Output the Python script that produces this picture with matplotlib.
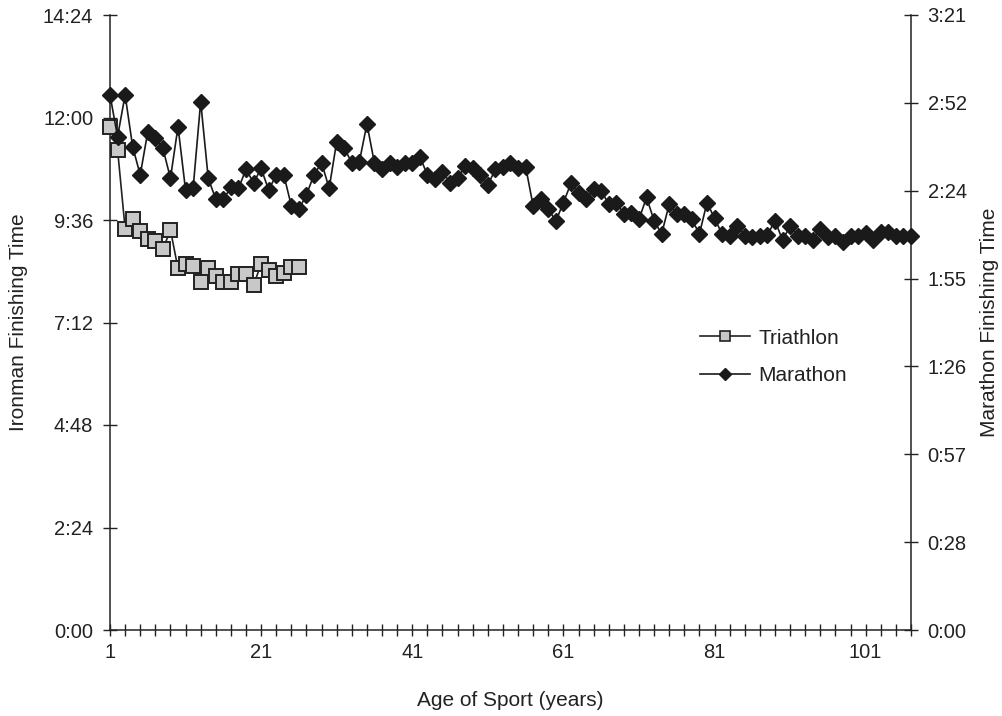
import matplotlib
matplotlib.use('Agg')
import matplotlib.pyplot as plt
from matplotlib.lines import Line2D
from matplotlib.ticker import FuncFormatter, FixedLocator
import numpy as np

plt.rcParams['font.family'] = ['Liberation Sans', 'DejaVu Sans']

# Ironman (triathlon) finishing time, minutes, by age of sport (years 1..26)
tri_years = list(range(1, 27))
tri_minutes = [707, 675, 564, 578, 560, 549, 546, 535, 562, 508,
               514, 511, 489, 508, 497, 489, 489, 500, 500, 485,
               514, 506, 497, 502, 510, 510]

# Marathon finishing time, minutes, by age of sport (years 1..107)
mar_years = list(range(1, 108))
mar_minutes = [175.4, 161.7, 175.4, 158.4, 149.2, 163.3, 161.2, 157.9, 148.1, 165.0,
               144.2, 144.8, 173.2, 148.1, 141.2, 141.2, 145.1, 144.8, 151.0, 146.6,
               151.3, 144.2, 149.2, 149.2, 139.0, 137.9, 142.7, 149.2, 153.2, 144.8,
               160.1, 157.9, 153.2, 153.5, 165.9, 153.0, 151.0, 153.0, 151.9, 153.0,
               153.2, 155.2, 149.2, 147.7, 150.2, 146.6, 148.1, 152.1, 151.3, 149.2,
               145.9, 151.0, 151.9, 153.2, 151.3, 151.9, 139.0, 141.2, 138.1, 134.0,
               140.1, 146.4, 143.4, 141.2, 144.5, 144.0, 139.6, 140.1, 136.4, 136.8,
               134.6, 141.8, 134.2, 129.8, 139.6, 136.4, 136.4, 134.6, 129.8, 140.1,
               135.0, 129.8, 129.2, 132.4, 129.2, 128.9, 129.2, 129.5, 134.2, 127.8,
               132.4, 129.2, 129.2, 127.8, 131.3, 128.7, 129.2, 127.3, 129.2, 129.2,
               130.2, 127.8, 130.6, 130.6, 129.2, 129.2, 129.0]

x_labels = {1: '1', 21: '21', 41: '41', 61: '61', 81: '81', 101: '101'}


def hm(m, pos=None):
    m = int(round(m, 6))
    return f'{m // 60}:{m % 60:02d}'


fig = plt.figure(figsize=(10.03, 7.16), dpi=100)
ax = fig.add_axes([110 / 1003, 86 / 716, 801 / 1003, 615 / 716])
ax2 = ax.twinx()

ax.plot(tri_years, tri_minutes, color='#222222', linewidth=1.2,
        marker='s', markersize=10.5, markerfacecolor='#c8c8c8',
        markeredgecolor='#222222', markeredgewidth=1.4, zorder=3, clip_on=False)
ax2.plot(mar_years, mar_minutes, color='#1a1a1a', linewidth=1.2,
         marker='D', markersize=8, markerfacecolor='#1a1a1a',
         markeredgecolor='#1a1a1a', zorder=3, clip_on=False)

ax.set_xlim(1, 107)
ax.set_ylim(0, 864)
ax2.set_ylim(0, 201.6)

ax.xaxis.set_major_locator(FixedLocator(np.arange(1, 108, 2)))
ax.xaxis.set_major_formatter(FuncFormatter(lambda v, p: x_labels.get(int(round(v)), '')))
ax.yaxis.set_major_locator(FixedLocator(np.arange(0, 865, 144)))
ax.yaxis.set_major_formatter(FuncFormatter(hm))
ax2.yaxis.set_major_locator(FixedLocator(np.linspace(0, 201.6, 8)))
ax2.yaxis.set_major_formatter(FuncFormatter(hm))

for a in (ax, ax2):
    a.spines['top'].set_visible(False)
    for s in a.spines.values():
        s.set_linewidth(1.1)
        s.set_color('#222222')
ax.spines['right'].set_visible(False)
ax2.spines['left'].set_visible(False)
ax2.spines['bottom'].set_visible(False)

ax.tick_params(axis='x', direction='inout', length=9, width=1.0, pad=5,
               labelsize=14.5, colors='#222222')
ax.tick_params(axis='y', direction='inout', length=10, width=1.0, pad=7,
               labelsize=14.5, colors='#222222')
ax2.tick_params(axis='y', direction='inout', length=10, width=1.0, pad=7,
                labelsize=14.5, colors='#222222')

ax.set_xlabel('Age of Sport (years)', fontsize=15, color='#222222')
ax.xaxis.set_label_coords(0.5, -0.1)
ax.set_ylabel('Ironman Finishing Time', fontsize=15, color='#222222')
ax.yaxis.set_label_coords(-0.1024, 0.5)
ax2.set_ylabel('Marathon Finishing Time', fontsize=15, color='#222222')
ax2.yaxis.set_label_coords(1.086, 0.5)

handles = [
    Line2D([], [], color='#222222', linewidth=1.2, marker='s', markersize=7,
           markerfacecolor='#c8c8c8', markeredgecolor='#222222', markeredgewidth=1.2),
    Line2D([], [], color='#1a1a1a', linewidth=1.2, marker='D', markersize=6,
           markerfacecolor='#1a1a1a', markeredgecolor='#1a1a1a'),
]
ax2.legend(handles, ['Triathlon', 'Marathon'], loc='upper left',
           bbox_to_anchor=(0.737, 0.49), frameon=False, fontsize=15,
           handlelength=2.4, handletextpad=0.4, labelspacing=0.9,
           borderpad=0, borderaxespad=0, labelcolor='#222222')

fig.savefig('out.png', dpi=100)
